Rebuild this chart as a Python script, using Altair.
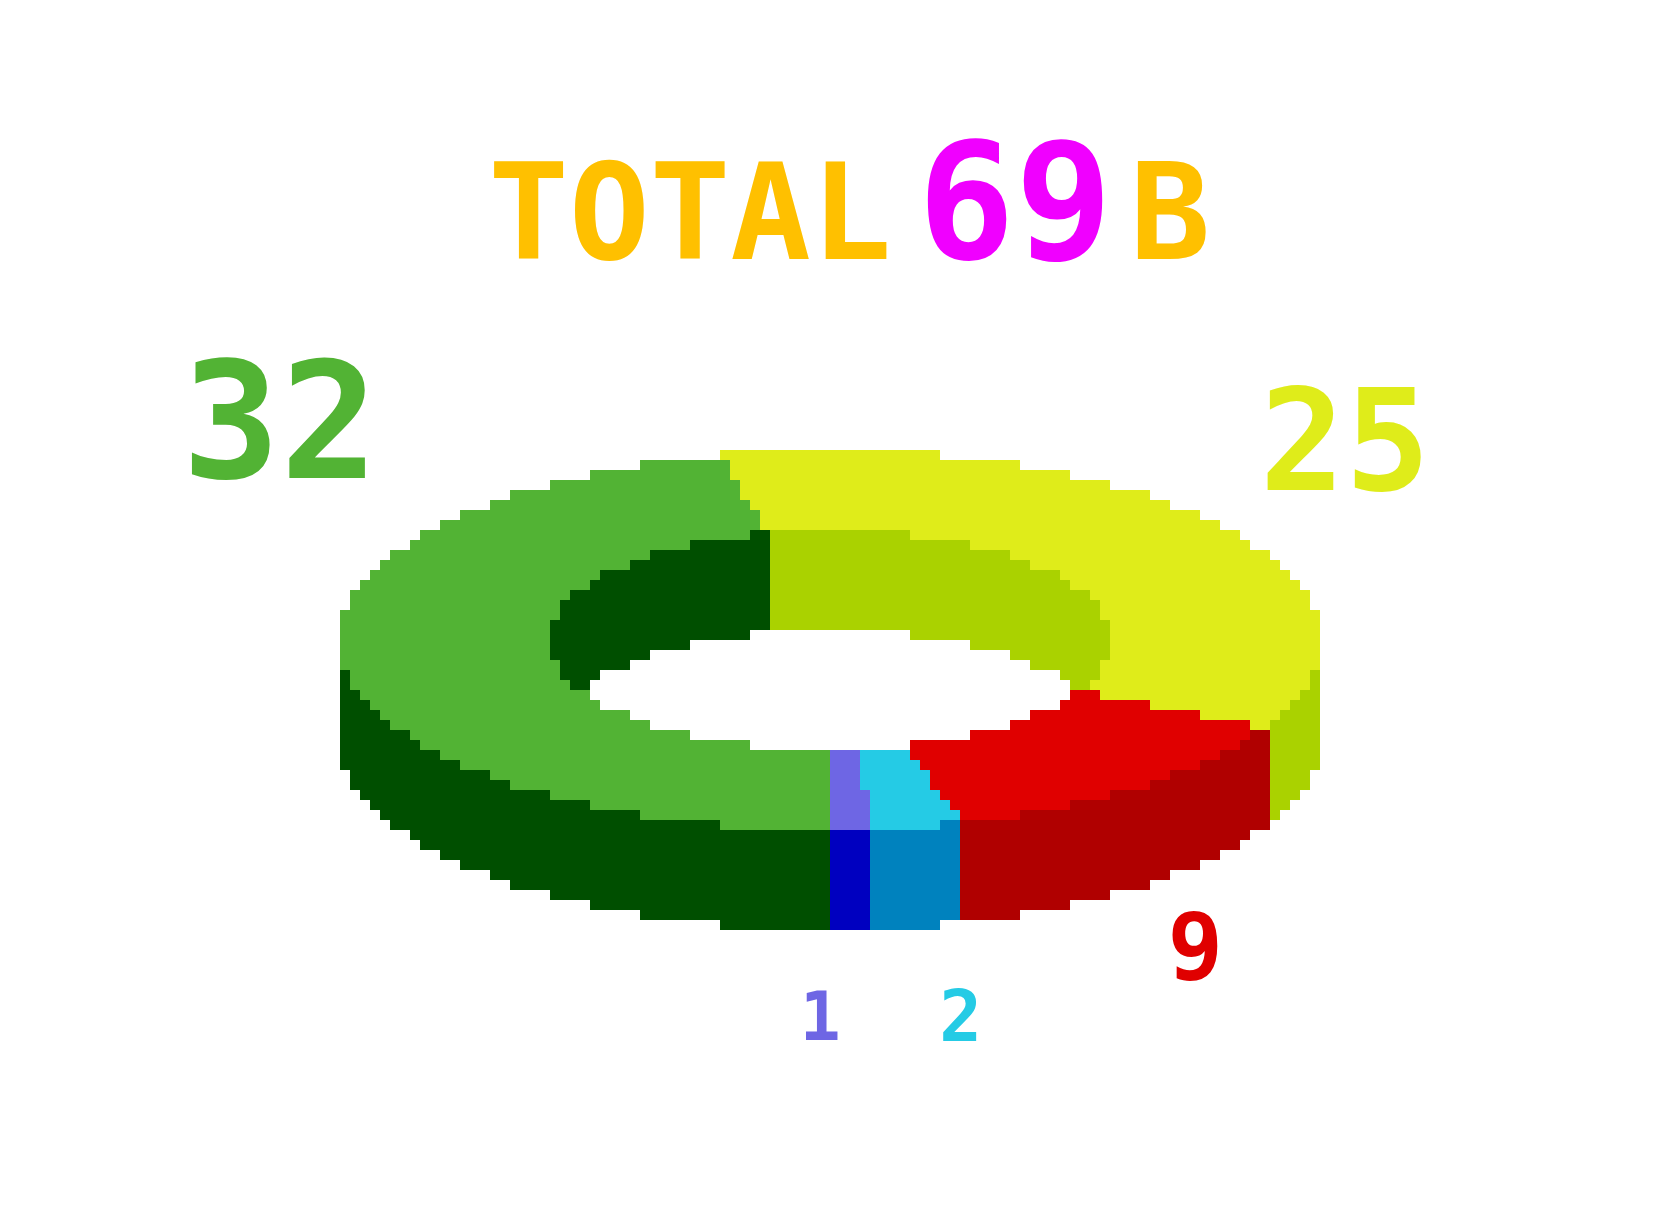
import math
import altair as alt
import pandas as pd

# ---------------- data ----------------
slice_values = [1, 2, 9, 25, 32]          # counter-clockwise from 6 o'clock
slice_ids = ["s1", "s2", "s3", "s4", "s5"]
title_word = "TOTAL"
title_unit = "B"

# ---------------- styles / layout ----------------
top_colors = ["#6e66e4", "#25cbe5", "#e00000", "#dfec1a", "#52b334"]
side_colors = ["#0000c0", "#0082be", "#b00000", "#aad200", "#004f00"]
title_color = "#ffc000"
total_color = "#f000ff"
FONT = "DejaVu Sans Mono"

W, H = 1660, 1220
CX, CY = 830, 640          # centre of top face
RX, RY = 490, 190          # outer ellipse
IRX, IRY = 280, 110        # inner ellipse
DEPTH = 100                # thickness of the ring
CELL = 10                  # pixel-art cell size
GX0, GX1 = 320, 1340
GY0, GY1 = 430, 950
label_nudge = [(-32, 85), (42, 88), (56, 58), (128, -85), (-63, -343)]

total = sum(slice_values)
bounds = [0.0]
for v in slice_values:
    bounds.append(bounds[-1] + 360.0 * v / total)


def slice_at(t_deg):
    s = (t_deg + 90.0) % 360.0
    for i in range(len(slice_values)):
        if s < bounds[i + 1]:
            return i
    return len(slice_values) - 1


def clamp(v):
    return max(-1.0, min(1.0, v))


def colour_at(px, py):
    dxo = (px - CX) / RX
    dyo = (py - CY) / RY
    dxi = (px - CX) / IRX
    dyi = (py - CY) / IRY
    in_outer = dxo * dxo + dyo * dyo <= 1.0
    in_inner = dxi * dxi + dyi * dyi <= 1.0
    if in_outer and not in_inner:
        t = math.degrees(math.atan2(-(py - CY) / RY, (px - CX) / RX))
        return top_colors[slice_at(t)]
    if in_inner:
        back_edge = CY + DEPTH - IRY * math.sqrt(max(0.0, 1 - dxi * dxi))
        if py < back_edge:
            t = math.degrees(math.acos(clamp(dxi)))
            return side_colors[slice_at(t)]
        return None
    if abs(px - CX) <= RX and py > CY:
        low = CY + DEPTH + RY * math.sqrt(max(0.0, 1 - dxo * dxo))
        if py <= low:
            t = -math.degrees(math.acos(clamp(dxo)))
            return side_colors[slice_at(t)]
    return None


rows = []
for gy in range(GY0, GY1, CELL):
    run_start, run_col = None, None
    for gx in range(GX0, GX1 + CELL, CELL):
        col = colour_at(gx + CELL / 2, gy + CELL / 2) if gx < GX1 else None
        if col != run_col:
            if run_col is not None:
                rows.append({"x0": run_start, "x1": gx, "y0": gy, "y1": gy + CELL, "fill": run_col})
            run_start, run_col = gx, col
cells = pd.DataFrame(rows)

# labels
lab_rows = []
for i, v in enumerate(slice_values):
    mid = (bounds[i] + bounds[i + 1]) / 2 - 90.0
    tr = math.radians(mid)
    bx = CX + RX * math.cos(tr)
    by = CY - RY * math.sin(tr) + (DEPTH if math.sin(tr) < 0 else 0)
    fs = 68 + 95 * (v - 1) / 31
    cx = bx + label_nudge[i][0]
    cy = by + label_nudge[i][1]
    lab_rows.append({"x": cx, "y": cy + 0.365 * fs, "text": str(v), "fs": fs,
                     "fill": top_colors[i]})
labels = pd.DataFrame(lab_rows)

xs = alt.Scale(domain=[0, W], nice=False, zero=False)
ys = alt.Scale(domain=[H, 0], nice=False, zero=False)

rects = alt.Chart(cells).mark_rect(strokeWidth=0).encode(
    x=alt.X("x0:Q", scale=xs, axis=None),
    x2="x1:Q",
    y=alt.Y("y0:Q", scale=ys, axis=None),
    y2="y1:Q",
    color=alt.Color("fill:N", scale=None),
)

label_layer = alt.Chart(labels).mark_text(font=FONT, fontWeight="bold", align="center",
                                          baseline="alphabetic").encode(
    x=alt.X("x:Q", scale=xs, axis=None),
    y=alt.Y("y:Q", scale=ys, axis=None),
    text="text:N",
    size=alt.Size("fs:Q", scale=None),
    color=alt.Color("fill:N", scale=None),
)

title_df = pd.DataFrame({"t": [title_word]})
t1 = alt.Chart(title_df).mark_text(font=FONT, fontWeight="bold", fontSize=134, align="center",
                                   baseline="alphabetic", color=title_color).encode(
    x=alt.value(690), y=alt.value(259), text="t:N")
t2 = alt.Chart(pd.DataFrame({"t": [str(total)]})).mark_text(
    font=FONT, fontWeight="bold", fontSize=162, align="center", baseline="alphabetic",
    color=total_color).encode(x=alt.value(1015), y=alt.value(259), text="t:N")
t3 = alt.Chart(pd.DataFrame({"t": [title_unit]})).mark_text(
    font=FONT, fontWeight="bold", fontSize=134, align="center", baseline="alphabetic",
    color=title_color).encode(x=alt.value(1170), y=alt.value(259), text="t:N")

chart = alt.layer(rects, label_layer, t1, t2, t3).properties(
    width=W, height=H, autosize=alt.AutoSizeParams(type="none"), padding=0,
    background="white",
).configure_view(stroke=None)

chart.save("out.html", embed_options={"renderer": "svg", "actions": False})
